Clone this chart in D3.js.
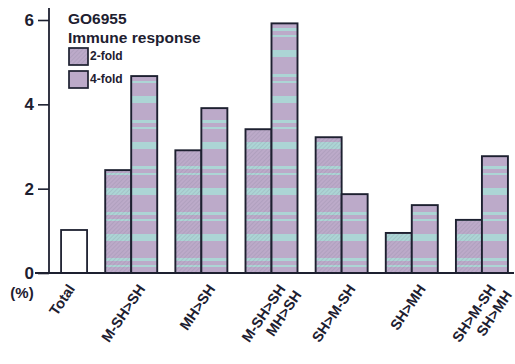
<!DOCTYPE html>
<html>
<head>
<meta charset="utf-8">
<script src="https://cdn.jsdelivr.net/npm/d3@7"></script>
<style>
  body { margin: 0; background: #fff; }
  svg { display: block; font-family: "Liberation Sans", Arial, sans-serif; }
</style>
</head>
<body>
<svg id="chart" width="515" height="364"></svg>
<script>
// ---- data ----
const categories = ["Total", "M-SH>SH", "MH>SH", "M-SH>SH\nMH>SH", "SH>M-SH", "SH>MH", "SH>M-SH\nSH>MH"];
const seriesKeys = ["2-fold", "4-fold"];
const totalValue = [1.02];
const twoFold  = [null, 2.44, 2.91, 3.41, 3.22, 0.95, 1.26];
const fourFold = [null, 4.67, 3.91, 5.92, 1.87, 1.61, 2.77];
const yTicks = [0, 2, 4, 6];
const titleLines = ["GO6955", "Immune response"];

// ---- layout ----
const svg = d3.select("#chart");
const ink = "#1d2030";
const purple = "#bcaac9";
const teal = "#acd5d5";

const x = d3.scaleBand().domain(categories).range([26, 517]).padding(0);
const x1 = d3.scaleBand().domain(seriesKeys).range([-26, 26]).padding(0);
const y = d3.scaleLinear().domain([0, 6]).range([273, 20]);
const cx = c => x(c) + x.bandwidth() / 2;

// ---- patterns ----
const defs = svg.append("defs");
const band = defs.append("pattern").attr("id", "bands")
  .attr("patternUnits", "userSpaceOnUse").attr("width", 10).attr("height", 46).attr("y", 4);
band.append("rect").attr("width", 10).attr("height", 46).attr("fill", purple);
[[0, 7], [24, 3], [31, 2]].forEach(([yy, h]) =>
  band.append("rect").attr("y", yy).attr("width", 10).attr("height", h).attr("fill", teal));

const hatch = defs.append("pattern").attr("id", "hatch")
  .attr("patternUnits", "userSpaceOnUse").attr("width", 3).attr("height", 3)
  .attr("patternTransform", "rotate(45)");
hatch.append("line").attr("x1", 0).attr("y1", 0).attr("x2", 0).attr("y2", 3)
  .attr("stroke", "#7d7590").attr("stroke-width", 0.7).attr("stroke-opacity", 0.55);

// ---- bars ----
const barData = [];
categories.forEach((c, i) => {
  if (twoFold[i] != null) barData.push({ c, k: "2-fold", v: twoFold[i] });
  if (fourFold[i] != null) barData.push({ c, k: "4-fold", v: fourFold[i] });
});

const g = svg.append("g");
// Total bar
g.append("rect")
  .attr("x", cx("Total") + x1("4-fold"))
  .attr("y", y(totalValue[0]))
  .attr("width", x1.bandwidth())
  .attr("height", y(0) - y(totalValue[0]))
  .attr("fill", "#fff").attr("stroke", ink).attr("stroke-width", 1.8);

const bars = g.selectAll("g.bar").data(barData).join("g").attr("class", "bar");
bars.append("rect")
  .attr("x", d => cx(d.c) + x1(d.k))
  .attr("y", d => y(d.v))
  .attr("width", x1.bandwidth())
  .attr("height", d => y(0) - y(d.v))
  .attr("fill", "url(#bands)");
bars.filter(d => d.k === "2-fold").append("rect")
  .attr("x", d => cx(d.c) + x1(d.k))
  .attr("y", d => y(d.v))
  .attr("width", x1.bandwidth())
  .attr("height", d => y(0) - y(d.v))
  .attr("fill", "url(#hatch)");
bars.append("rect")
  .attr("x", d => cx(d.c) + x1(d.k))
  .attr("y", d => y(d.v))
  .attr("width", x1.bandwidth())
  .attr("height", d => y(0) - y(d.v))
  .attr("fill", "none").attr("stroke", ink).attr("stroke-width", 1.9);

// ---- axes ----
const yAxis = d3.axisLeft(y).tickValues(yTicks).tickSize(11).tickPadding(4).tickFormat(d3.format("d"));
const ya = svg.append("g").attr("transform", "translate(49,0)").call(yAxis);
ya.select(".domain").remove();
ya.selectAll(".tick line").attr("stroke", ink).attr("stroke-width", 1.6);
ya.selectAll(".tick text").attr("fill", ink).attr("font-size", 17).attr("font-weight", "bold")
  .attr("font-family", "Liberation Sans, Arial, sans-serif");
svg.append("line").attr("x1", 49).attr("x2", 49).attr("y1", 8).attr("y2", y(0))
  .attr("stroke", ink).attr("stroke-width", 1.8);
svg.append("line").attr("x1", 35).attr("x2", 514).attr("y1", y(0)).attr("y2", y(0))
  .attr("stroke", ink).attr("stroke-width", 1.8);

svg.append("text").attr("x", 22).attr("y", 298).attr("text-anchor", "middle")
  .attr("font-size", 15).attr("font-weight", "bold").attr("fill", ink).text("(%)");

// category labels
categories.forEach(c => {
  const lines = c.split("\n");
  const ax = cx(c) + 6, ay = 283;
  const t = svg.append("text")
    .attr("transform", `translate(${ax},${ay}) rotate(-56)`)
    .attr("text-anchor", "end").attr("font-size", 14.5).attr("font-weight", "bold").attr("fill", ink);
  lines.forEach((l, i) => t.append("tspan").attr("x", i === 0 ? 0 : 4).attr("dy", i === 0 ? "0.71em" : "1.15em").text(l));
});

// ---- legend ----
svg.append("text").attr("x", 68).attr("y", 24).attr("font-size", 15.5).attr("font-weight", "bold")
  .attr("fill", ink).text(titleLines[0]);
svg.append("text").attr("x", 68).attr("y", 43).attr("font-size", 15.5).attr("font-weight", "bold")
  .attr("fill", ink).text(titleLines[1]);
seriesKeys.forEach((k, i) => {
  const ly = 48 + i * 23;
  svg.append("rect").attr("x", 69).attr("y", ly).attr("width", 19).attr("height", 17).attr("fill", purple);
  if (k === "2-fold") svg.append("rect").attr("x", 69).attr("y", ly).attr("width", 19).attr("height", 17).attr("fill", "url(#hatch)");
  svg.append("rect").attr("x", 69).attr("y", ly).attr("width", 19).attr("height", 17)
    .attr("fill", "none").attr("stroke", ink).attr("stroke-width", 1.7);
  svg.append("text").attr("x", 90).attr("y", ly + 12).attr("font-size", 12).attr("font-weight", "bold")
    .attr("fill", ink).text(k);
});
</script>
</body>
</html>
